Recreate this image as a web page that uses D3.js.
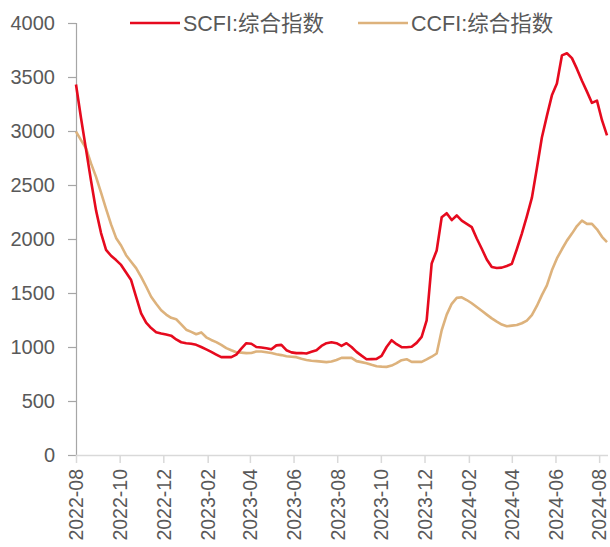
<!DOCTYPE html>
<html lang="zh">
<head>
<meta charset="UTF-8">
<title>SCFI / CCFI</title>
<script src="https://cdnjs.cloudflare.com/ajax/libs/d3/7.9.0/d3.min.js"></script>
<style>
  body { margin: 0; background: #fff; }
  text { font-family: "Liberation Sans", "Noto Sans CJK SC", sans-serif; fill: #595959; }
</style>
</head>
<body>
<svg id="chart" width="610" height="547"></svg>
<script>
// weekly readings, first week 2022-08-26, last 2024-09-06
const firstWeek = "2022-08-26";
const seriesNames = ["SCFI:综合指数", "CCFI:综合指数"];
const scfi = [
  3430, 3120, 2830, 2540, 2265, 2055, 1900, 1845, 1805, 1760,
  1690, 1620, 1465, 1312, 1225, 1175, 1137, 1125, 1115, 1105,
  1070, 1044, 1035, 1030, 1020, 1000, 978, 955, 930, 906,
  906, 906, 930, 985, 1035, 1030, 1000, 995, 989, 979,
  1015, 1020, 970, 950, 943, 945, 940, 955, 970, 1010,
  1035, 1044, 1035, 1010, 1035, 1000, 955, 920, 887, 888,
  890, 918, 1000, 1063, 1026, 998, 998, 1002, 1038, 1093,
  1247, 1774, 1894, 2202, 2239, 2175, 2218, 2170, 2140, 2110,
  2005, 1910, 1810, 1740, 1731, 1735, 1750, 1770, 1905, 2050,
  2210, 2380, 2655, 2940, 3140, 3330, 3440, 3700, 3720, 3675,
  3575, 3465, 3365, 3260, 3281, 3100, 2960
];
const ccfi = [
  2995, 2915, 2840, 2700, 2575, 2430, 2280, 2135, 2010, 1940,
  1850, 1790, 1730, 1650, 1560, 1465, 1400, 1340, 1300, 1270,
  1257, 1210, 1160, 1140, 1118, 1135, 1090, 1065, 1045, 1020,
  990, 970, 952, 948, 943, 945, 958, 958, 952, 945,
  933, 925, 915, 910, 906, 892, 880, 872, 869, 865,
  860, 865, 880, 899, 899, 899, 869, 860, 850, 835,
  822, 818, 816, 828, 850, 878, 887, 862, 862, 862,
  885, 910, 940, 1155, 1300, 1400, 1455, 1460, 1435, 1405,
  1370, 1335, 1300, 1265, 1235, 1208, 1192, 1198, 1203, 1220,
  1245, 1295, 1380, 1480, 1570, 1710, 1820, 1905, 1985, 2050,
  2120, 2170, 2140, 2140, 2090, 2020, 1971
];
const yTicks = [0, 500, 1000, 1500, 2000, 2500, 3000, 3500, 4000];
const colors = ["#e60a1e", "#ddb27c"];

const start = d3.timeParse("%Y-%m-%d")(firstWeek);
const dates = scfi.map((v, i) => d3.timeDay.offset(start, 7 * i));
const xTicks = d3.range(13).map(i => d3.timeMonth.offset(start, 2 * i));

const svg = d3.select("#chart");

var x = d3.scaleTime()
    .domain([start, dates[dates.length - 1]])
    .range([76, 607]);
var y = d3.scaleLinear().domain([0, 4000]).range([455, 23]);

// y axis
var yAxis = svg.append("g")
    .attr("transform", "translate(76,0)")
    .call(d3.axisLeft(y).tickValues(yTicks).tickFormat(d3.format("d")).tickSize(8).tickPadding(13));
yAxis.select(".domain").attr("stroke", "#a6a6a6").attr("stroke-width", 1.2);
yAxis.selectAll(".tick line").attr("stroke", "#a6a6a6").attr("stroke-width", 1.2);
yAxis.selectAll("text")
    .style("font-size", "20px")
    .attr("fill", "#595959");

// x axis
var xAxis = svg.append("g")
    .attr("transform", "translate(0,455)")
    .call(d3.axisBottom(x).tickValues(xTicks).tickFormat(d3.timeFormat("%Y-%m")).tickSize(8).tickSizeOuter(0));
xAxis.select(".domain").attr("d", "M76,0.5H608").attr("stroke", "#d9d9d9").attr("stroke-width", 1.5);
xAxis.selectAll(".tick line").attr("stroke", "#d9d9d9").attr("stroke-width", 1.5);
xAxis.selectAll("text")
    .attr("transform", "rotate(-90)")
    .attr("text-anchor", "end")
    .attr("x", -14)
    .attr("y", 0)
    .attr("dy", "0.35em")
    .style("font-size", "19.5px")
    .attr("fill", "#595959");

// lines
var line = d3.line()
    .x(function (d, i) { return x(dates[i]); })
    .y(function (d) { return y(d); });

[ccfi, scfi].forEach(function (vals, k) {
    svg.append("path")
        .datum(vals)
        .attr("fill", "none")
        .attr("stroke", k === 0 ? colors[1] : colors[0])
        .attr("stroke-width", 2.6)
        .attr("stroke-linejoin", "round")
        .attr("d", line);
});

// legend
var legendX = [130, 358];
seriesNames.forEach(function (name, i) {
    var g = svg.append("g").attr("transform", "translate(" + legendX[i] + ",23)");
    g.append("line")
        .attr("x1", 0).attr("x2", 50)
        .attr("stroke", colors[i])
        .attr("stroke-width", 2.6);
    g.append("text")
        .attr("x", 53)
        .attr("dy", "0.35em")
        .style("font-size", "21.5px")
        .text(name);
});
</script>
</body>
</html>
